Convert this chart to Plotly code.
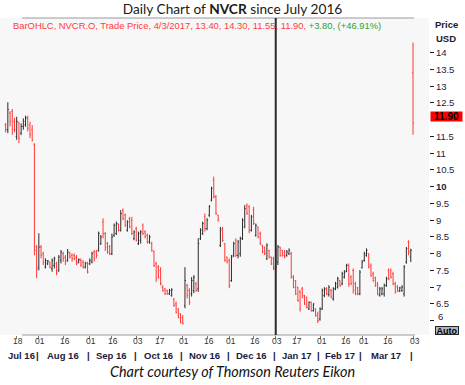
import pandas as pd
import plotly.graph_objects as go

# ---------------- data ----------------
holidays = ["2016-09-05", "2016-11-24", "2016-12-26", "2017-01-02", "2017-01-16", "2017-02-20"]
dates = [d.strftime("%Y-%m-%d") for d in pd.bdate_range("2016-07-11", "2017-04-03")
         if d.strftime("%Y-%m-%d") not in holidays]

open_ = [11.85, 11.70, 12.20, 12.25, 11.95, 11.50, 11.90, 11.60, 11.80, 11.85,
         12.05, 11.85, 11.70, 11.25, 8.20, 7.60, 8.20, 8.00, 7.60, 7.70,
         7.75, 7.55, 7.65, 7.70, 7.50, 7.80, 8.00, 7.90, 7.80, 8.00,
         7.95, 7.95, 7.90, 7.75, 7.80, 7.75, 7.60, 7.70, 7.70, 7.75,
         8.05, 8.05, 8.10, 8.30, 8.95, 8.60, 8.30, 8.20, 8.00, 8.55,
         8.60, 8.88, 8.70, 9.30, 9.15, 8.70, 9.05, 9.00, 8.45, 8.75,
         8.30, 8.40, 8.85, 8.65, 8.55, 8.35, 8.30, 8.05, 7.70, 7.60,
         7.50, 7.00, 6.95, 6.90, 6.80, 6.75, 6.65, 6.50, 6.35, 6.20,
         6.10, 6.45, 7.05, 6.90, 6.80, 6.90, 7.10, 6.95, 8.45, 8.60,
         9.10, 8.75, 9.15, 9.60, 10.20, 9.70, 9.15, 8.25, 8.75, 8.30,
         7.90, 7.80, 7.20, 7.95, 8.40, 7.95, 8.00, 8.45, 8.80, 9.45,
         9.40, 8.70, 9.30, 8.55, 8.80, 8.60, 8.25, 8.20, 7.85, 8.10,
         7.90, 7.85, 7.60, 7.75, 8.20, 8.10, 8.05, 7.95, 8.00, 8.00,
         7.30, 7.20, 7.00, 6.85, 6.95, 6.75, 6.70, 6.35, 6.55, 6.30,
         6.35, 6.20, 6.05, 6.35, 6.75, 6.95, 6.78, 6.90, 6.65, 6.95,
         7.00, 7.20, 7.10, 7.30, 7.48, 7.65, 7.30, 7.50, 7.10, 6.98,
         6.80, 7.58, 7.80, 7.95, 8.00, 7.65, 7.40, 7.28, 7.10, 6.75,
         6.80, 6.80, 7.05, 7.50, 7.50, 7.40, 7.10, 7.00, 6.88, 6.90,
         6.80, 7.75, 8.35, 7.90, 13.40]

high = [11.90, 12.52, 12.25, 12.32, 12.05, 12.09, 11.94, 11.89, 12.04, 12.12,
        12.12, 11.94, 11.84, 11.30, 8.26, 8.61, 8.26, 8.06, 7.86, 7.81,
        7.76, 7.86, 7.91, 7.76, 7.96, 8.11, 8.06, 7.96, 8.14, 8.06,
        8.01, 8.01, 7.96, 7.86, 7.86, 7.81, 7.76, 7.76, 7.86, 8.06,
        8.11, 8.11, 8.66, 8.56, 9.06, 8.65, 8.35, 8.26, 8.60, 8.90,
        8.96, 8.90, 9.30, 9.35, 9.20, 9.00, 9.10, 9.10, 8.70, 8.80,
        8.66, 8.70, 8.90, 8.70, 8.60, 8.56, 8.36, 8.10, 7.76, 7.66,
        7.60, 7.06, 6.97, 6.92, 6.95, 6.97, 6.67, 6.57, 6.37, 6.22,
        6.17, 7.60, 7.10, 6.97, 7.30, 7.36, 7.16, 8.46, 8.76, 8.96,
        9.20, 9.06, 9.45, 10.00, 10.30, 9.75, 9.16, 8.80, 8.80, 8.32,
        7.91, 7.86, 7.96, 8.36, 8.46, 8.41, 8.51, 9.06, 9.45, 9.50,
        9.45, 9.16, 9.40, 8.90, 8.81, 8.66, 8.26, 8.21, 8.31, 8.11,
        7.91, 7.91, 8.16, 8.26, 8.21, 8.11, 8.11, 8.11, 8.16, 8.06,
        7.36, 7.21, 7.01, 6.92, 7.01, 6.77, 6.72, 6.57, 6.57, 6.52,
        6.37, 6.27, 6.40, 6.96, 7.00, 7.00, 7.06, 6.95, 7.00, 7.16,
        7.31, 7.21, 7.46, 7.51, 7.70, 7.71, 7.36, 7.56, 7.16, 7.01,
        7.51, 7.81, 8.06, 8.16, 8.01, 7.71, 7.46, 7.31, 7.16, 7.01,
        7.01, 7.11, 7.31, 7.56, 7.56, 7.46, 7.16, 7.06, 7.01, 7.06,
        7.66, 8.20, 8.40, 8.15, 14.30]

low = [11.62, 11.60, 11.80, 11.55, 11.62, 11.40, 11.30, 11.54, 11.70, 11.79,
       11.65, 11.45, 11.35, 7.95, 7.27, 7.50, 7.86, 7.66, 7.56, 7.66,
       7.56, 7.46, 7.56, 7.36, 7.46, 7.71, 7.76, 7.66, 7.76, 7.86,
       7.76, 7.81, 7.66, 7.71, 7.61, 7.56, 7.56, 7.41, 7.66, 7.71,
       7.76, 7.86, 8.06, 8.26, 8.46, 8.08, 8.00, 7.96, 7.96, 8.50,
       8.56, 8.66, 8.66, 9.00, 8.80, 8.66, 8.76, 8.56, 8.40, 8.36,
       8.26, 8.30, 8.56, 8.46, 8.30, 8.30, 8.06, 7.60, 7.16, 7.26,
       7.06, 6.86, 6.77, 6.77, 6.77, 6.72, 6.42, 6.22, 6.07, 5.92,
       5.89, 6.37, 6.67, 6.47, 6.72, 6.82, 6.86, 6.86, 8.41, 8.56,
       8.66, 8.70, 9.10, 9.56, 9.65, 9.16, 8.96, 8.20, 8.35, 7.76,
       7.71, 6.97, 7.16, 7.90, 7.90, 7.86, 7.91, 8.41, 8.76, 9.16,
       8.61, 8.66, 8.86, 8.51, 8.46, 8.26, 8.01, 7.96, 7.81, 7.86,
       7.66, 7.51, 7.56, 7.66, 7.91, 7.91, 7.86, 7.91, 7.96, 7.26,
       6.97, 6.77, 6.57, 6.27, 6.67, 6.47, 6.37, 6.32, 6.27, 6.27,
       6.12, 5.93, 6.00, 6.32, 6.70, 6.76, 6.72, 6.67, 6.60, 6.91,
       6.96, 7.01, 7.06, 7.26, 7.45, 7.01, 7.06, 6.81, 6.76, 6.76,
       6.76, 7.56, 7.76, 7.91, 7.56, 7.31, 7.16, 7.01, 6.76, 6.72,
       6.76, 6.72, 7.01, 7.21, 7.26, 7.06, 6.81, 6.86, 6.86, 6.86,
       6.72, 7.70, 7.95, 7.75, 11.55]

close = [11.70, 12.30, 11.95, 11.70, 11.70, 11.95, 11.45, 11.80, 11.95, 12.05,
         11.75, 11.55, 11.40, 8.10, 7.55, 8.20, 7.95, 7.75, 7.80, 7.78,
         7.60, 7.80, 7.85, 7.45, 7.90, 8.05, 7.85, 7.75, 8.05, 7.90,
         7.85, 7.85, 7.70, 7.82, 7.65, 7.60, 7.72, 7.45, 7.80, 8.00,
         7.85, 7.95, 8.60, 8.50, 8.60, 8.20, 8.05, 8.00, 8.50, 8.85,
         8.90, 8.70, 9.20, 9.05, 8.85, 8.95, 8.80, 8.60, 8.65, 8.40,
         8.60, 8.65, 8.60, 8.50, 8.35, 8.50, 8.10, 7.65, 7.25, 7.30,
         7.10, 6.90, 6.80, 6.80, 6.90, 6.92, 6.45, 6.25, 6.10, 5.95,
         5.92, 7.20, 6.75, 6.55, 7.20, 7.30, 6.90, 8.30, 8.70, 8.90,
         8.75, 9.00, 9.40, 9.95, 9.70, 9.20, 9.00, 8.70, 8.40, 7.80,
         7.75, 7.05, 7.90, 8.30, 7.95, 8.35, 8.45, 9.00, 9.35, 9.20,
         8.70, 9.10, 8.90, 8.85, 8.50, 8.30, 8.05, 8.00, 8.25, 7.90,
         7.70, 7.55, 8.10, 8.20, 7.95, 7.95, 7.90, 8.05, 8.10, 7.30,
         7.00, 6.80, 6.60, 6.35, 6.70, 6.50, 6.40, 6.55, 6.30, 6.50,
         6.15, 6.00, 6.35, 6.90, 6.95, 6.80, 7.00, 6.70, 6.95, 7.10,
         7.25, 7.05, 7.40, 7.45, 7.65, 7.10, 7.10, 6.90, 6.80, 6.80,
         7.45, 7.75, 8.00, 8.10, 7.60, 7.35, 7.20, 7.05, 6.80, 6.95,
         6.95, 7.05, 7.25, 7.25, 7.30, 7.10, 6.85, 6.90, 6.98, 7.00,
         7.60, 8.15, 8.05, 8.10, 11.90]

tick_dates = ["2016-07-18", "2016-08-01", "2016-08-16", "2016-09-01", "2016-09-16",
              "2016-10-03", "2016-10-17", "2016-11-01", "2016-11-16", "2016-12-01",
              "2016-12-16", "2017-01-03", "2017-01-17", "2017-02-01", "2017-02-16",
              "2017-03-01", "2017-03-16", "2017-04-03"]
tick_labels = ["18", "01", "16", "01", "16", "03", "17", "01", "16", "01",
               "16", "03", "17", "01", "16", "01", "16", "03"]

price_ticks = [6, 6.5, 7, 7.5, 8, 8.5, 9, 9.5, 10, 10.5, 11, 11.5, 12.5, 13, 13.5, 14]
price_labels = ["", "6.5", "7", "7.5", "8", "8.5", "9", "9.5", "<b>10</b>", "10.5",
                "11", "11.5", "12.5", "13", "13.5", "14"]
lowest_label = "6"

month_names = ["Jul 16", "Aug 16", "Sep 16", "Oct 16", "Nov 16", "Dec 16",
               "Jan 17", "Feb 17", "Mar 17"]
marker_date = "2017-01-03"
last_price = "11.90"
legend_main = "BarOHLC, NVCR.O, Trade Price, 4/3/2017, 13.40, 14.30, 11.55, 11.90, "
legend_chg = "+3.80, (+46.91%)"

assert len(dates) == len(open_) == len(high) == len(low) == len(close)

# ---------------- figure ----------------
W, H = 465, 385
ML, MR, MT, MB = 0, 36, 18, 50
PW = W - ML - MR
PH = H - MT - MB


def px(x):
    return x / PW


def py(y):
    return (H - MB - y) / PH


fig = go.Figure(go.Ohlc(
    x=dates, open=open_, high=high, low=low, close=close,
    increasing=dict(line=dict(color="#2b2b2b", width=1)),
    decreasing=dict(line=dict(color="#ff3838", width=1)),
    tickwidth=0.45, hoverinfo="skip", showlegend=False,
))

small = dict(family="Liberation Sans", size=8.5, color="#333333")
month_font = dict(family="Liberation Sans", size=9.5, color="#1a1a40")
axis_font = dict(family="Liberation Sans", size=9.5, color="#1c1c3c")
C = dict(xanchor="center", yanchor="middle", showarrow=False)

ann = []
# day tick labels
for d, t in zip(tick_dates, tick_labels):
    ann.append(dict(x=d, xref="x", y=py(341), yref="paper", text=t, xshift=1.5,
                    font=small, **C))
# month row
month_pos = {}
for i, d in enumerate(dates):
    month_pos.setdefault(d[:7], []).append(i)
keys = list(month_pos.keys())
for k, name in zip(keys, month_names):
    pos = month_pos[k]
    ann.append(dict(x=(pos[0] + pos[-1]) / 2, xref="x", y=py(355), yref="paper",
                    text="<b>%s</b>" % name, font=month_font, **C))
for k in keys[1:]:
    ann.append(dict(x=month_pos[k][0] - 0.5, xref="x", y=py(355), yref="paper",
                    text="<b>|</b>", font=month_font, **C))

ann += [
    dict(x=px(11), y=py(26), xref="paper", yref="paper", xanchor="left", yanchor="middle",
         showarrow=False,
         text='<span style="color:#ff3b3b">%s</span><span style="color:#2f9e2f">%s</span>'
              % (legend_main, legend_chg),
         font=dict(family="Liberation Sans", size=9.4)),
    dict(x=px(446), y=py(25), xref="paper", yref="paper", text="<b>Price</b>",
         font=dict(family="Liberation Sans", size=9.5, color="#1a1a30"), **C),
    dict(x=px(446), y=py(38), xref="paper", yref="paper", text="<b>USD</b>",
         font=dict(family="Liberation Sans", size=9.5, color="#1a1a30"), **C),
    dict(x=px(447), y=11.9, xref="paper", yref="y", yshift=7,
         text="<b>%s</b>" % last_price, bgcolor="#ff0000", width=31, height=9, borderpad=0,
         font=dict(family="Liberation Sans", size=10, color="#000000"), **C),
    dict(x=px(436), y=6, xref="paper", yref="y", yshift=4, xanchor="left", yanchor="middle",
         showarrow=False, text=lowest_label, font=axis_font),
    dict(x=px(447), y=py(330), xref="paper", yref="paper",
         text="<b>Auto</b>", bgcolor="#b4b4c4", bordercolor="#222", borderwidth=1,
         width=22, height=7, borderpad=0,
         font=dict(family="Liberation Sans", size=9, color="#000000"), **C),
    dict(x=px(232), y=py(371), xref="paper", yref="paper",
         text="<i>Chart courtesy of Thomson Reuters Eikon</i>",
         font=dict(family="Lato", size=14.4, color="#111111"), **C),
]

shapes = [
    dict(type="line", xref="paper", yref="paper", x0=px(22), x1=px(414), y0=1, y1=1,
         line=dict(color="#9a9a9a", width=1)),
    dict(type="line", xref="paper", yref="paper", x0=px(22), x1=px(415), y0=0, y1=0,
         line=dict(color="#9a9a9a", width=1)),
    dict(type="line", xref="x", yref="paper", x0=marker_date, x1=marker_date, y0=0, y1=1,
         line=dict(color="#2a2a2a", width=2)),
]

b = 2.214
first_px = 5.63
fig.update_layout(
    width=W, height=H,
    margin=dict(l=ML, r=MR, t=MT, b=MB, autoexpand=False),
    paper_bgcolor="white", plot_bgcolor="#f7f7f7",
    title=dict(text="Daily Chart of <b>NVCR</b> since July 2016", x=0.5, xanchor="center",
               y=1 - 9.5 / H, yanchor="middle", yref="container", xref="container",
               font=dict(family="Lato", size=13.7, color="#1a1a1a")),
    xaxis=dict(type="category", range=[-first_px / b, (PW - first_px) / b],
               tickvals=tick_dates, ticktext=tick_labels, ticks="outside", ticklen=3,
               tickcolor="#777", showticklabels=False, automargin=False,
               showgrid=False, zeroline=False, showline=False,
               rangeslider=dict(visible=False), fixedrange=True),
    yaxis=dict(side="right", range=[10 - (H - MB - 186.7) / 33.5, 10 + (186.7 - MT) / 33.5],
               tickvals=price_ticks, ticktext=price_labels, ticks="outside", ticklen=4,
               tickcolor="#1c1c3c", automargin=False, tickfont=axis_font,
               showgrid=False, zeroline=False, showline=False, fixedrange=True),
    annotations=ann, shapes=shapes, showlegend=False,
)

fig.write_html("out.html", config={"displayModeBar": False},
               post_script="document.body.style.margin='0';document.body.style.padding='0';")
